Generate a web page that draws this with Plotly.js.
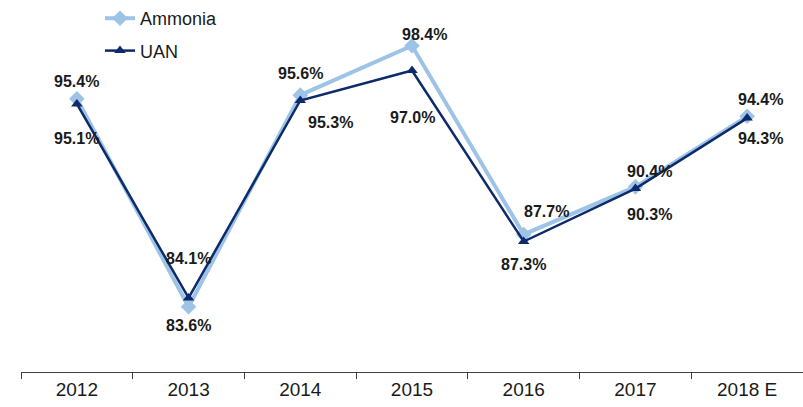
<!DOCTYPE html>
<html><head><meta charset="utf-8">
<script src="https://cdn.plot.ly/plotly-3.0.1.min.js"></script>
<style>html,body{margin:0;padding:0;background:#fff}#chart{width:803px;height:407px}</style>
</head><body><div id="chart"></div>
<script>
const years = ["2012","2013","2014","2015","2016","2017","2018 E"];
const ammonia = [95.4, 83.6, 95.6, 98.4, 87.7, 90.4, 94.4];
const uan = [95.1, 84.1, 95.3, 97.0, 87.3, 90.3, 94.3];

// label offsets in pixels (layout only)
const ammShift = [[0,17],[0,-19],[0,22],[12,11],[23,23],[14,15],[13,17]];
const uanShift = [[0,-35],[0,39],[30,-22],[0,-47],[0,-23],[14,-26],[13,-20]];

const lblFont = {family:"Liberation Sans, Arial, sans-serif", size:16, color:"#1a1a1a"};
const annotations = [];
years.forEach((y,i)=>{
  annotations.push({x:i, y:ammonia[i], text:"<b>"+ammonia[i].toFixed(1)+"%</b>", showarrow:false,
    xshift:ammShift[i][0], yshift:ammShift[i][1], font:lblFont});
  annotations.push({x:i, y:uan[i], text:"<b>"+uan[i].toFixed(1)+"%</b>", showarrow:false,
    xshift:uanShift[i][0], yshift:uanShift[i][1], font:lblFont});
});

const traces = [
  {x:years, y:ammonia, name:"Ammonia", type:"scatter", mode:"lines+markers", legendgroup:"a",
   line:{color:"#9DC3E6", width:4}, marker:{symbol:"diamond", size:12, color:"#9DC3E6"}},
  {x:years, y:uan, name:"UAN", type:"scatter", mode:"lines+markers", legendgroup:"b",
   line:{color:"#0D2A6B", width:2.5}, marker:{symbol:"triangle-up", size:10, color:"#0D2A6B"}}
];

const layout = {
  width:803, height:407,
  margin:{l:21, r:0, t:0, b:35},
  paper_bgcolor:"#fff", plot_bgcolor:"#fff",
  showlegend:true,
  legend:{x:0.101, y:1.02, xanchor:"left", yanchor:"top",
    font:{family:"Liberation Sans, Arial, sans-serif", size:18, color:"#1a1a1a"},
    traceorder:"grouped", tracegroupgap:6, bgcolor:"rgba(0,0,0,0)"},
  xaxis:{type:"category", range:[-0.5,6.5], showgrid:false, zeroline:false,
    showline:true, linecolor:"#404040", linewidth:1, ticks:"outside", ticklen:6, tickcolor:"#404040",
    tickson:"boundaries", tickfont:{family:"Liberation Sans Narrow, Arial Narrow, sans-serif", size:19, color:"#1a1a1a"}},
  yaxis:{range:[79.9, 100.6], showgrid:false, zeroline:false, showline:false, showticklabels:false, ticks:""},
  annotations:annotations
};
Plotly.newPlot("chart", traces, layout, {displayModeBar:false, staticPlot:true});
</script></body></html>
